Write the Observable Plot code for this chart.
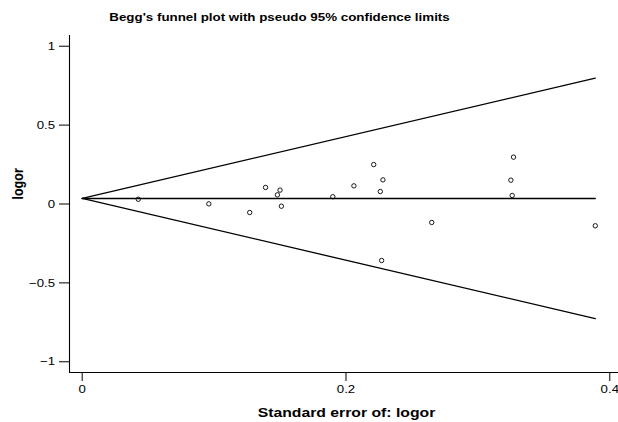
<!DOCTYPE html>
<html><head><meta charset="utf-8">
<script src="https://cdn.jsdelivr.net/npm/d3@7"></script>
<script src="https://cdn.jsdelivr.net/npm/@observablehq/plot@0.6"></script>
<style>body{margin:0;background:#fff} svg{display:block}</style>
</head><body><div id="chart"></div>
<script>
// Study standard errors and log odds ratios
const seValues    = [0.0425, 0.096, 0.127, 0.139, 0.150, 0.148, 0.151, 0.190, 0.206, 0.221, 0.228, 0.226, 0.265, 0.227, 0.327, 0.325, 0.326, 0.389];
const logorValues = [0.030, 0.001, -0.054, 0.105, 0.088, 0.058, -0.014, 0.046, 0.115, 0.250, 0.153, 0.079, -0.117, -0.358, 0.297, 0.151, 0.054, -0.138];
// Pooled estimate and pseudo 95% confidence limits (endpoints)
const pooledLogor = 0.035;
const funnelSE    = [0, 0.389];
const upperLimit  = [0.035, 0.798];
const lowerLimit  = [0.035, -0.726];
// Axes
const xTicks  = [0, 0.2, 0.4];
const yTicks  = [-1, -0.5, 0, 0.5, 1];
const xDomain = [-0.00963, 0.4066];
const yDomain = [-1.068, 1.068];
const titleText = "Begg's funnel plot with pseudo 95% confidence limits";
const xLabel = "Standard error of: logor";
const yLabel = "logor";

const studies = seValues.map((se, i) => ({se, logor: logorValues[i]}));
const upper = funnelSE.map((se, i) => ({se, v: upperLimit[i]}));
const lower = funnelSE.map((se, i) => ({se, v: lowerLimit[i]}));
const pooled = funnelSE.map(se => ({se, v: pooledLogor}));
const fmt = d => d === 0 ? "0" : String(d).replace("-", "\u2212");

const plot = Plot.plot({
  width: 618, height: 422,
  marginTop: 35, marginBottom: 50, marginLeft: 69, marginRight: 0,
  style: {fontFamily: "'Liberation Sans', Arial, sans-serif", background: "#fff", color: "#000"},
  x: {domain: xDomain, axis: null, label: null},
  y: {domain: yDomain, axis: null, label: null},
  marks: [
    Plot.axisX(xTicks, {tickSize: 9, tickPadding: 3, tickFormat: fmt, fontSize: 11.5, label: null, stroke: "#000", fill: "#000"}),
    Plot.axisY(yTicks, {tickSize: 10, tickPadding: 4.5, tickFormat: fmt, fontSize: 11.5, label: null, stroke: "#000", fill: "#000"}),
    Plot.ruleX([xDomain[0]], {y1: yDomain[0], y2: yDomain[1], stroke: "#000", strokeWidth: 1.1}),
    Plot.ruleY([yDomain[0]], {x1: xDomain[0], x2: xDomain[1], stroke: "#000", strokeWidth: 1.1}),
    Plot.line(upper, {x: "se", y: "v", stroke: "#000", strokeWidth: 1.3}),
    Plot.line(lower, {x: "se", y: "v", stroke: "#000", strokeWidth: 1.3}),
    Plot.line(pooled, {x: "se", y: "v", stroke: "#000", strokeWidth: 1.3}),
    Plot.dot(studies, {x: "se", y: "logor", r: 2.2, stroke: "#000", strokeWidth: 0.9, fill: "none"}),
    Plot.text([titleText], {text: d => d, frameAnchor: "top", lineAnchor: "bottom", dx: -64.5, dy: -14.3, fontSize: 11.6, fontWeight: "bold", fill: "#000"}),
    Plot.text([xLabel], {text: d => d, frameAnchor: "bottom", lineAnchor: "bottom", dx: 2.5, dy: 44.5, fontSize: 13.7, fontWeight: "bold", fill: "#000"}),
    Plot.text([yLabel], {text: d => d, frameAnchor: "left", lineAnchor: "bottom", rotate: -90, dx: -46.5, dy: -4.5, fontSize: 12.5, fontWeight: "bold", fill: "#000"})
  ]
});
// the reference image is horizontally stretched: widen glyphs about their anchors
plot.querySelectorAll("text").forEach(t => {
  const tr = t.getAttribute("transform") || "";
  t.setAttribute("transform", tr + (tr.includes("rotate") ? " scale(1,1.15)" : " scale(1.15,1)"));
});
document.getElementById("chart").append(plot);
</script>
</body></html>
